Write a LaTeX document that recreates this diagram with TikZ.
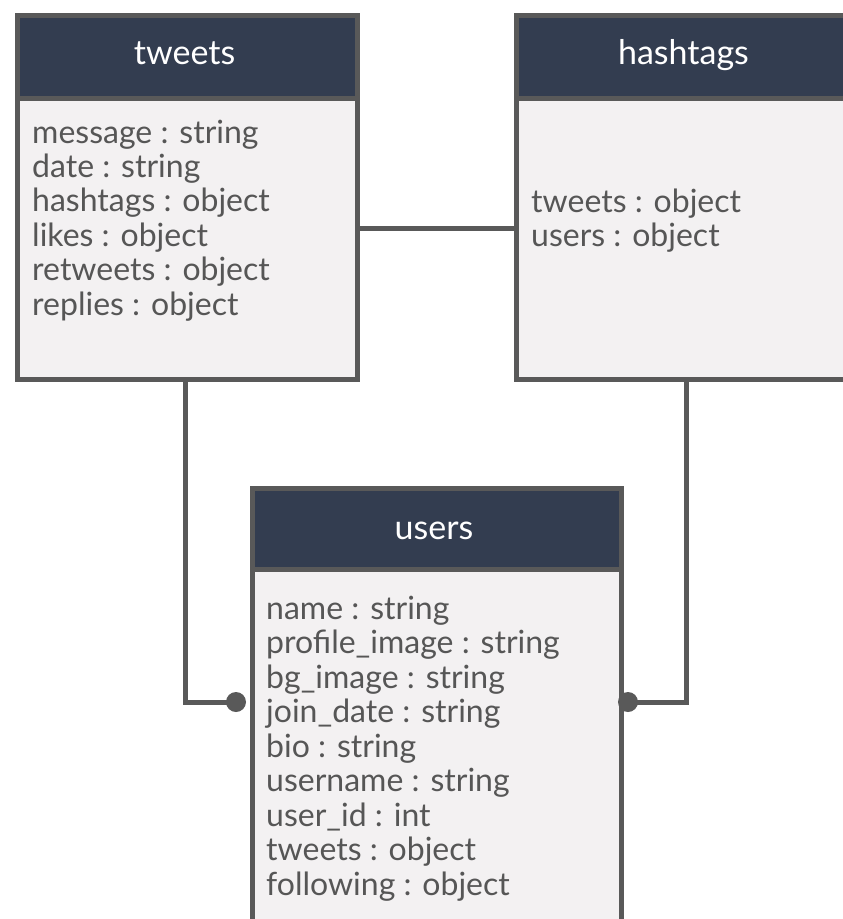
\documentclass[tikz,border=0pt]{standalone}
\usepackage{fontspec}
\setmainfont{Lato}
\usepackage{tikz}

\definecolor{headblue}{HTML}{333D50}
\definecolor{bodygray}{HTML}{F3F1F2}
\definecolor{edgegray}{HTML}{595959}
\definecolor{textgray}{HTML}{565656}

\tikzset{
  head/.style={draw=edgegray, line width=5pt, fill=headblue, text=white,
    anchor=north west, inner sep=0pt},
  title/.style={text=white, anchor=base, inner sep=0pt,
    font=\fontsize{34}{40}\selectfont},
  body/.style={draw=edgegray, line width=5pt, fill=bodygray,
    anchor=north west, inner sep=0pt},
  field/.style={anchor=base west, inner sep=0pt, text=textgray,
    font=\fontsize{32}{38}\selectfont},
  link/.style={draw=edgegray, line width=5pt}
}

\begin{document}
\begin{tikzpicture}[x=1pt, y=-1pt]
\useasboundingbox (0,0) rectangle (843,919);
\clip (0,0) rectangle (843,919);

% tweets
\node[body, minimum width=340pt, minimum height=281pt] (tweetsbody) at (14.5,95.5) {};
\node[head, minimum width=340pt, minimum height=83pt] (tweets) at (14.5,12.5) {};
\node[title] (tweetstitle) at (184.5,64) {tweets};
\foreach \txt [count=\i] in {message : string, date : string, hashtags : object,
  likes : object, retweets : object, replies : object}
  \node[field] (t\i) at (32,{108.6+34.4*\i}) {\txt};

% hashtags
\node[body, minimum width=340pt, minimum height=281pt] (hashtagsbody) at (513.5,95.5) {};
\node[head, minimum width=340pt, minimum height=83pt] (hashtags) at (513.5,12.5) {};
\node[title] (hashtagstitle) at (683.5,64) {hashtags};
\foreach \txt [count=\i] in {tweets : object, users : object}
  \node[field] (h\i) at (531,{177.5+34.5*\i}) {\txt};

% users
\node[body, minimum width=369pt, minimum height=400pt] (usersbody) at (249.5,566.5) {};
\node[head, minimum width=369pt, minimum height=81pt] (users) at (249.5,485.5) {};
\node[title] (userstitle) at (434,539) {users};
\foreach \txt [count=\i] in {name : string, profile\_image : string, bg\_image : string,
  join\_date : string, bio : string, username : string, user\_id : int,
  tweets : object, following : object}
  \node[field] (u\i) at (266,{584.5+34.5*\i}) {\txt};

% links
\coordinate (tdot) at (236,702);
\coordinate (hdot) at (628,702);
\draw[link] ([yshift=10.5pt]tweetsbody.east) -- ([yshift=10.5pt]hashtagsbody.west);
\draw[link] ([xshift=-2pt]tweetsbody.south) |- (tdot);
\draw[link] (hashtagsbody.south) |- (hdot);
\fill[edgegray] (tdot) circle (10pt);
\fill[edgegray] (hdot) circle (10pt);
\end{tikzpicture}
\end{document}
